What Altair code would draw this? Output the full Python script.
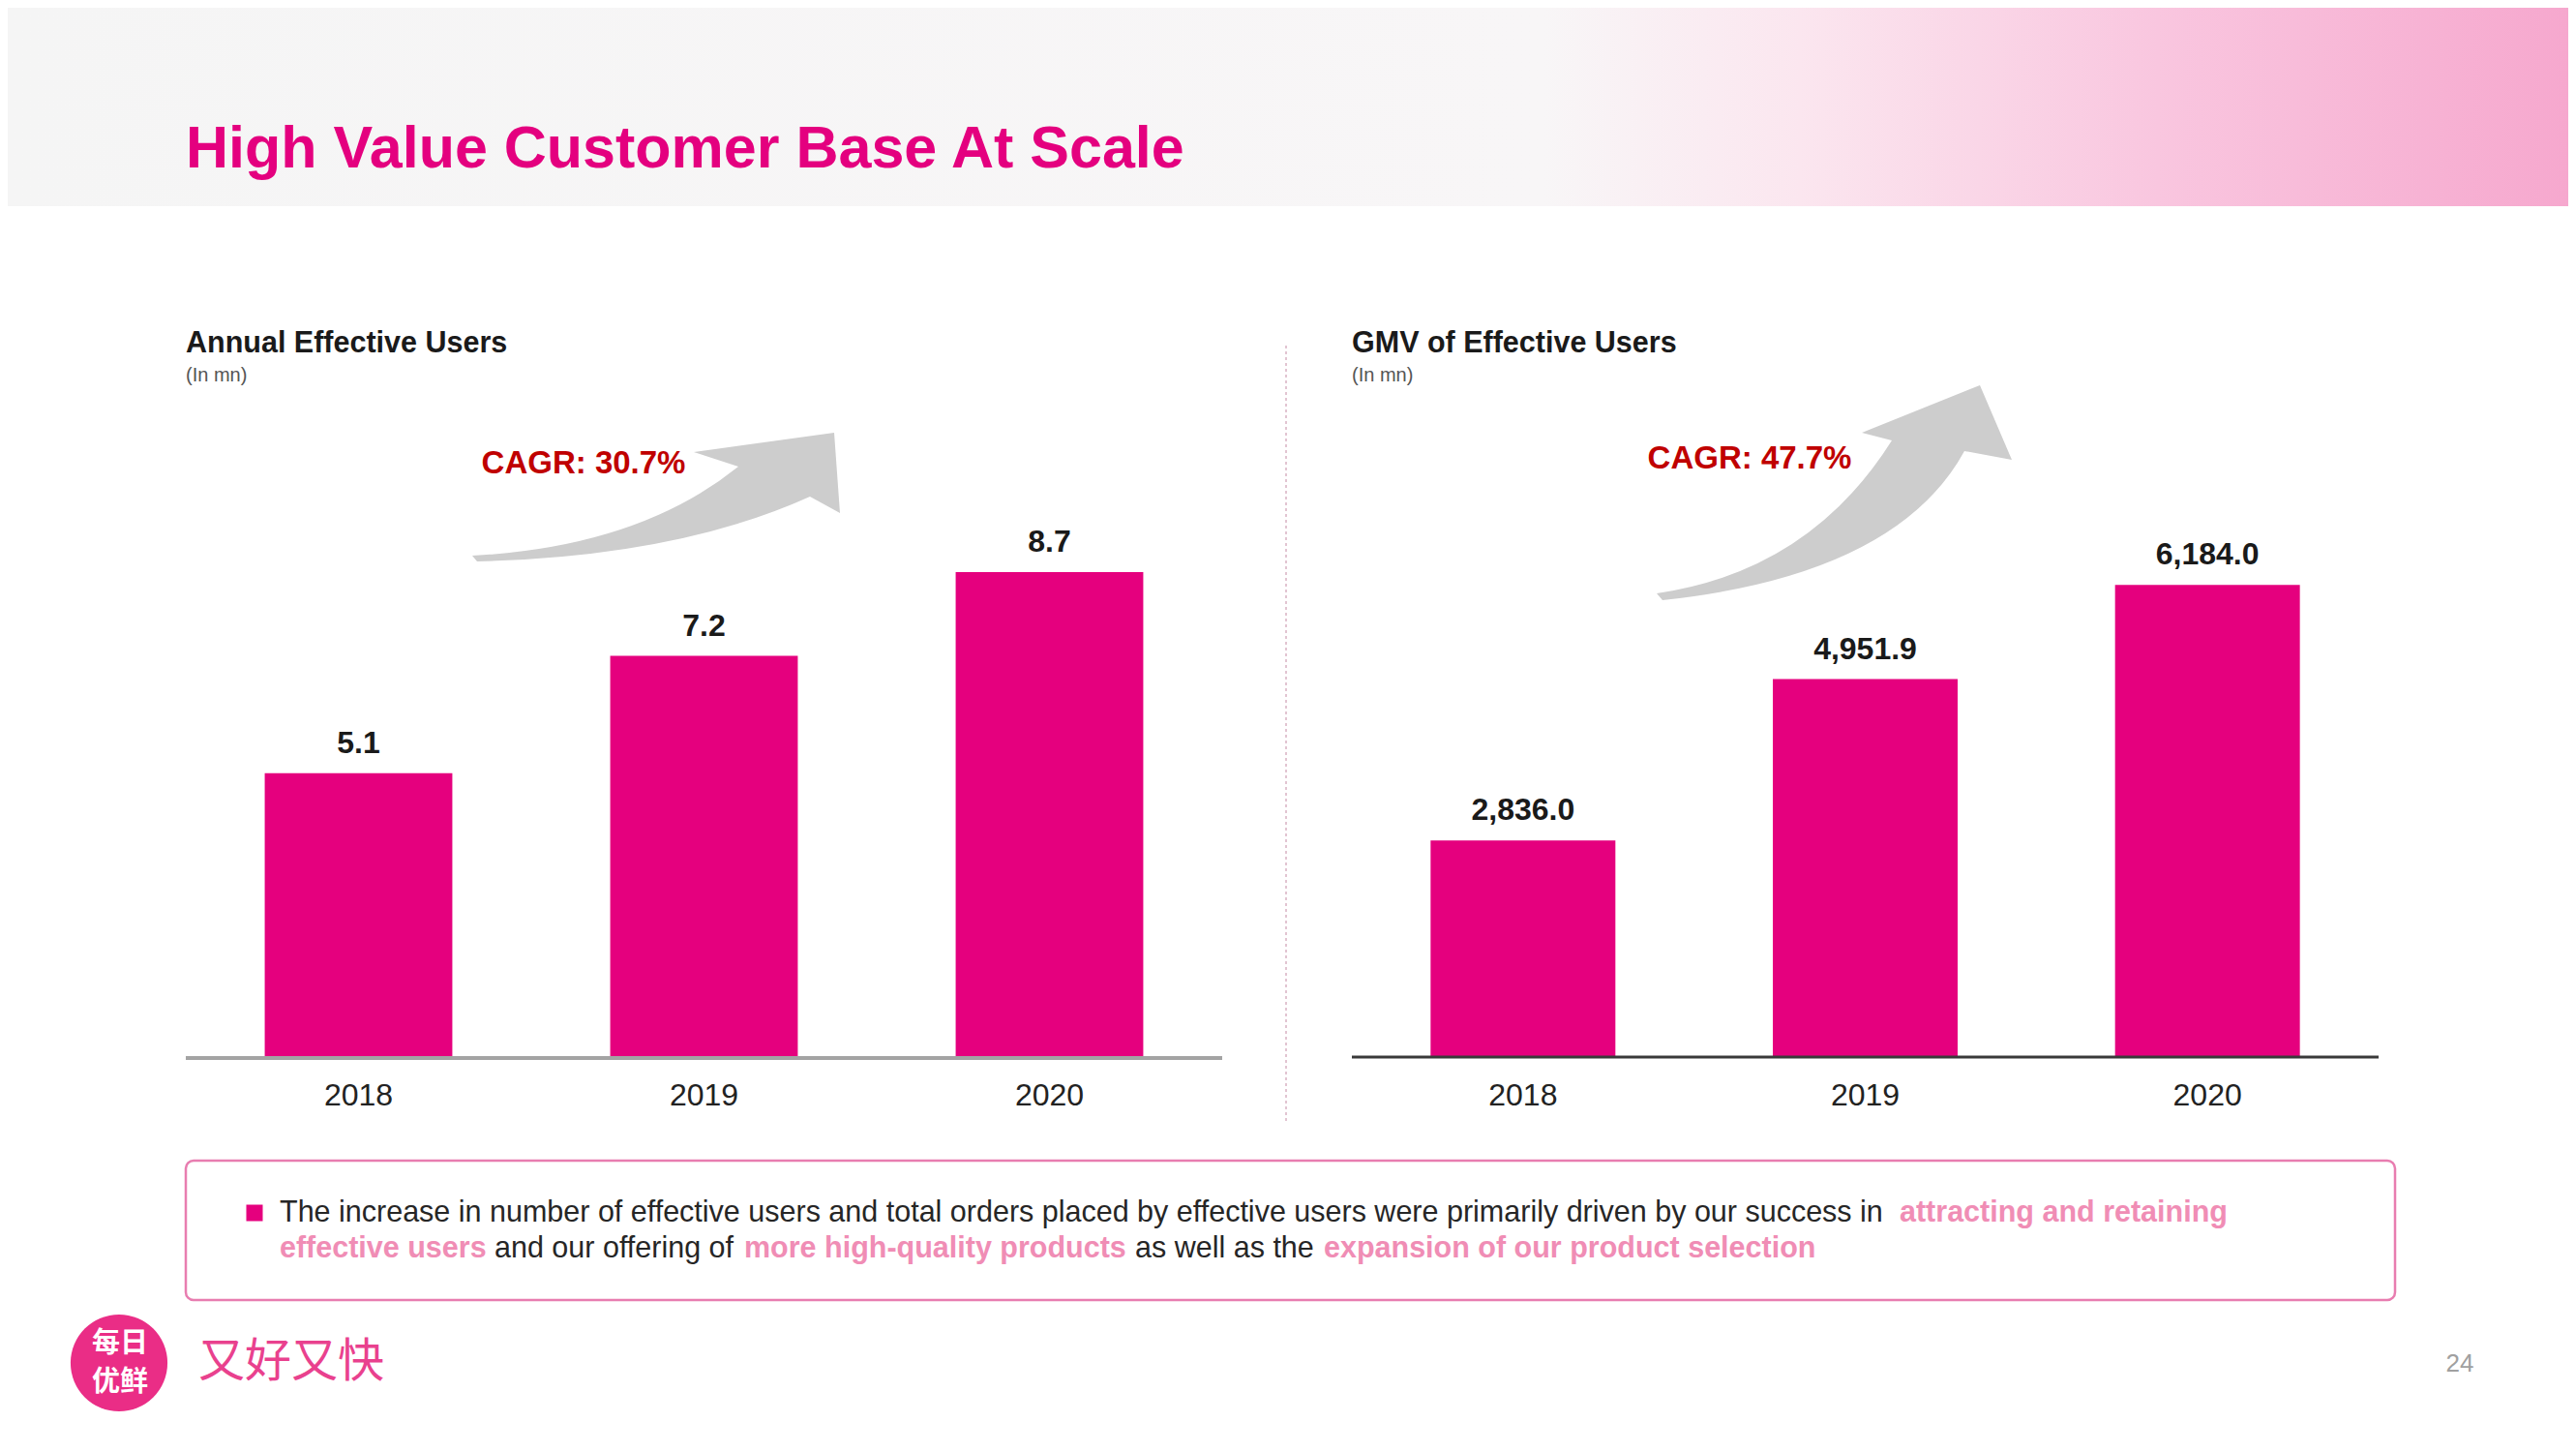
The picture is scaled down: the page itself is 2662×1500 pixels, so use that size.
import altair as alt
import pandas as pd

# ---------------- data ----------------
years = ["2018", "2019", "2020"]
users = [5.1, 7.2, 8.7]          # Annual Effective Users (mn)
gmv = [2836.0, 4951.9, 6184.0]   # GMV of Effective Users (mn)

title_text = "High Value Customer Base At Scale"
left_title = "Annual Effective Users"
right_title = "GMV of Effective Users"
unit_text = "(In mn)"
cagr_left = "CAGR: 30.7%"
cagr_right = "CAGR: 47.7%"
footer_texts = [
    "The increase in number of effective users and total orders placed by effective users were primarily driven by our success in",
    "attracting and retaining",
    "effective users",
    "and our offering of",
    "more high-quality products",
    "as well as the",
    "expansion of our product selection",
]
footer_highlight = [False, True, True, False, True, False, True]
footer_line = [0, 0, 1, 1, 1, 1, 1]
logo_lines = ["每日", "优鲜"]
slogan = "又好又快"
page_number = "24"

# ---------------- layout / style ----------------
MAGENTA = "#E5007E"
TITLE_PINK = "#E4007F"
SOFT_PINK = "#F08DB5"
CAGR_RED = "#C00000"
FONT = "Liberation Sans"
W, H = 2646, 1484

footer_x = [281, 1955, 281, 503, 761, 1165, 1360]
footer_y = [1245, 1282]

left_df = pd.DataFrame({"year": years, "value": users})
right_df = pd.DataFrame({"year": years, "value": gmv})


def one(text=""):
    return pd.DataFrame({"t": [text]})


def txt(text, x, y, size, color="#1a1a1a", bold=False, align="left",
        baseline="middle", font=FONT):
    return alt.Chart(one(text)).mark_text(
        align=align, baseline=baseline, fontSize=size, color=color,
        fontWeight="bold" if bold else "normal", font=font,
    ).encode(x=alt.value(x), y=alt.value(y), text="t:N")


# ----- top decorative band -----
band = alt.Chart(one()).mark_rect(
    color=alt.LinearGradient(
        gradient="linear", x1=0, x2=1, y1=0, y2=0,
        stops=[
            alt.GradientStop(offset=0.0, color="#F5F5F5"),
            alt.GradientStop(offset=0.60, color="#F8F6F7"),
            alt.GradientStop(offset=0.70, color="#FBE6EF"),
            alt.GradientStop(offset=0.84, color="#F9C6DF"),
            alt.GradientStop(offset=1.0, color="#F6A8CE"),
        ],
    )
).encode(x=alt.value(0), x2=alt.value(W), y=alt.value(0), y2=alt.value(205))

title = txt(title_text, 184, 165, 61, TITLE_PINK, bold=True, baseline="alphabetic")


# ----- panel builder -----
def panel(df, x_range, y_domain, y_range, fmt, axis_color, axis_width, pad):
    xs = alt.Scale(domain=years, range=x_range, paddingInner=pad, paddingOuter=pad / 2)
    ys = alt.Scale(domain=y_domain, range=y_range, nice=False, zero=True)
    base = alt.Chart(df)
    bars = base.mark_bar(color=MAGENTA).encode(
        x=alt.X("year:N", scale=xs, axis=None),
        y=alt.Y("value:Q", scale=ys, axis=None),
    )
    labels = base.mark_text(
        fontSize=32, fontWeight="bold", font=FONT, color="#1a1a1a",
        baseline="middle", dy=-31,
    ).encode(
        x=alt.X("year:N", scale=xs, axis=None),
        y=alt.Y("value:Q", scale=ys, axis=None),
        text=alt.Text("value:Q", format=fmt),
    )
    yrs = base.mark_text(
        fontSize=32, font=FONT, color="#222222", baseline="middle",
    ).encode(
        x=alt.X("year:N", scale=xs, axis=None),
        y=alt.value(1124),
        text="year:N",
    )
    axis_line = alt.Chart(one()).mark_rule(
        color=axis_color, strokeWidth=axis_width
    ).encode(
        x=alt.value(x_range[0]), x2=alt.value(x_range[1]),
        y=alt.value(y_range[0]),
    )
    return alt.layer(bars, labels, yrs, axis_line)


left = panel(left_df, [184, 1255], [0, 10], [1085, 508], ".1f", "#A3A3A3", 4, 0.457)
right = panel(right_df, [1389, 2450], [0, 7000], [1084, 532], ",.1f", "#3A3A3A", 3, 0.46)

# ----- panel titles -----
lt = txt(left_title, 184, 347, 30.5, "#1a1a1a", bold=True)
lu = txt(unit_text, 184, 380, 20, "#555555")
rt = txt(right_title, 1389, 347, 30.5, "#1a1a1a", bold=True)
ru = txt(unit_text, 1389, 380, 20, "#555555")

# ----- CAGR arrows (decorative shapes) -----
left_arrow_path = ("M480,566 Q652,557 755,474 L709,459 L854,439 L860,522 "
                   "L829,505 Q692,567 485,572 Z")
right_arrow_path = ("M1704,605 Q1862,582 1947,447 L1916,439 L2038,390 L2071,467 "
                    "L2022,458 Q1952,586 1710,612 Z")


def arrow(path):
    return alt.Chart(one()).mark_point(
        shape=path, filled=True, size=4, color="#CDCDCD", opacity=1, strokeWidth=0
    ).encode(x=alt.value(0), y=alt.value(0))


la = arrow(left_arrow_path)
ra = arrow(right_arrow_path)
lc = txt(cagr_left, 595, 471, 33, CAGR_RED, bold=True, align="center")
rc = txt(cagr_right, 1800, 466, 33, CAGR_RED, bold=True, align="center")

# ----- separator -----
sep = alt.Chart(one()).mark_rule(
    color="#D9B2C4", strokeWidth=1.5, strokeDash=[3, 3]
).encode(x=alt.value(1321), y=alt.value(349), y2=alt.value(1150))

# ----- footer box -----
box = alt.Chart(one()).mark_rect(
    fill="white", stroke="#E87DB0", strokeWidth=2.5, cornerRadius=8
).encode(x=alt.value(184), x2=alt.value(2467), y=alt.value(1191), y2=alt.value(1335))
bullet = alt.Chart(one()).mark_square(
    color=MAGENTA, size=289, opacity=1
).encode(x=alt.value(255), y=alt.value(1245))

footer_layers = []
for t, hl, ln, x in zip(footer_texts, footer_highlight, footer_line, footer_x):
    footer_layers.append(
        txt(t, x, footer_y[ln], 30.5, SOFT_PINK if hl else "#262626", bold=hl)
    )

# ----- logo & page number -----
logo = alt.Chart(one()).mark_circle(
    color="#EA2D86", size=10029, opacity=1
).encode(x=alt.value(115), y=alt.value(1400))
logo_t1 = txt(logo_lines[0], 116, 1380, 29, "white", bold=True, align="center",
              font="Noto Sans CJK SC")
logo_t2 = txt(logo_lines[1], 116, 1420, 29, "white", bold=True, align="center",
              font="Noto Sans CJK SC")
slog = txt(slogan, 197, 1400, 48, "#E9418E", font="Noto Sans CJK SC")
page = txt(page_number, 2534, 1401, 26, "#A0A0A0", align="center")

chart = alt.layer(
    band, title, lt, lu, rt, ru, la, ra, lc, rc, sep, left, right,
    box, bullet, *footer_layers, logo, logo_t1, logo_t2, slog, page,
).resolve_scale(x="independent", y="independent").properties(
    width=W, height=H, padding=0,
    autosize=alt.AutoSizeParams(type="none"),
    background="white",
).configure_view(stroke=None)

chart.save("out.html", embed_options={"renderer": "svg", "actions": False})
